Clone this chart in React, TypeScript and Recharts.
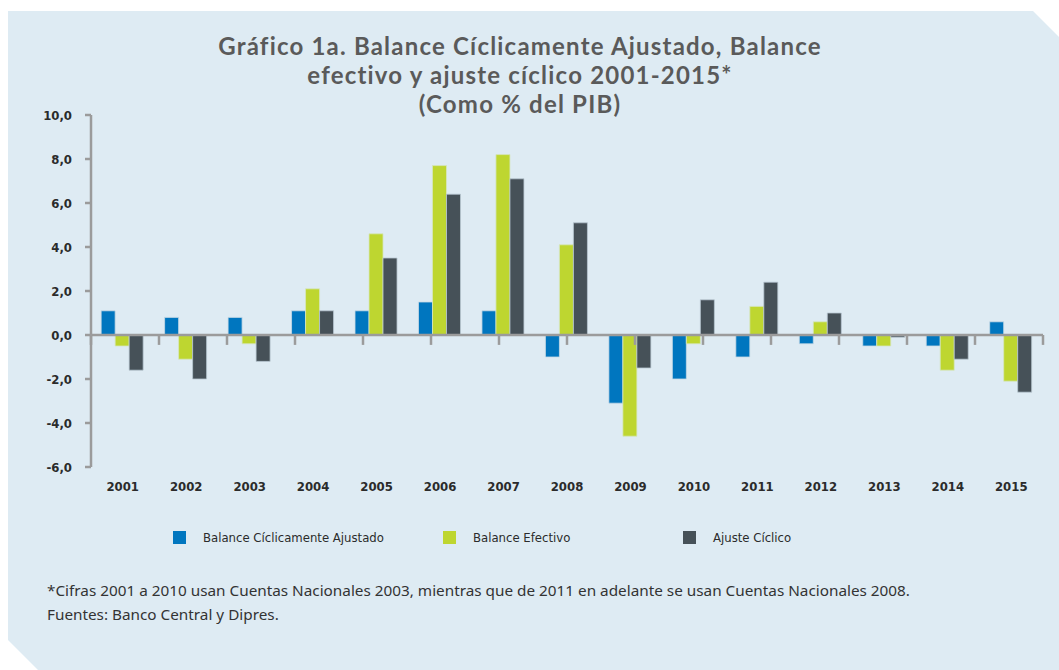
import React from "react";
import { BarChart, Bar, XAxis, YAxis, ReferenceLine } from "recharts";

const years = ["2001","2002","2003","2004","2005","2006","2007","2008","2009","2010","2011","2012","2013","2014","2015"];
const balanceCiclicamenteAjustado = [1.1, 0.8, 0.8, 1.1, 1.1, 1.5, 1.1, -1.0, -3.1, -2.0, -1.0, -0.4, -0.5, -0.5, 0.6];
const balanceEfectivo = [-0.5, -1.1, -0.4, 2.1, 4.6, 7.7, 8.2, 4.1, -4.6, -0.4, 1.3, 0.6, -0.5, -1.6, -2.1];
const ajusteCiclico = [-1.6, -2.0, -1.2, 1.1, 3.5, 6.4, 7.1, 5.1, -1.5, 1.6, 2.4, 1.0, -0.1, -1.1, -2.6];
const yTicks = [-6, -4, -2, 0, 2, 4, 6, 8, 10];
const boundaries = [0, 1, 2, 3, 4, 5, 6, 7, 8, 9, 10, 11, 12, 13, 14, 15];

const seriesNames = ["Balance Cíclicamente Ajustado", "Balance Efectivo", "Ajuste Cíclico"];
const seriesColors = ["#0076bf", "#bed630", "#465158"];

const data = years.map((y, i) => ({
  year: y,
  bca: balanceCiclicamenteAjustado[i],
  be: balanceEfectivo[i],
  ac: ajusteCiclico[i],
}));

const AXIS = "#9b9b9b";
const COND = "'DejaVu Sans Condensed', 'Liberation Sans Narrow', 'Noto Sans', sans-serif";
const SANS = "'Noto Sans', 'Open Sans', sans-serif";
const TITLE = "Lato, 'Noto Sans', sans-serif";

const legendX = [173, 443, 683];

const tickStyle = { fontFamily: COND, fontWeight: 700, fontSize: 13, fill: "#2b2b2b" } as any;

export default function App() {
  return (
    <div style={{ position: "absolute", left: 0, top: 0, width: 1059, height: 670, background: "#ffffff", overflow: "hidden" }}>
      <svg width={1059} height={670} style={{ position: "absolute", left: 0, top: 0 }}>
        <polygon points="8,11 1033,11 1059,37 1059,670 38,670 8,640" fill="#deebf3" />
      </svg>
      <div style={{ position: "absolute", left: 0, top: 31, width: 1040, textAlign: "center", fontFamily: TITLE, fontWeight: 700, fontSize: 24, letterSpacing: 1.2, lineHeight: "29px", color: "#5a5a5a" }}>
        Gráfico 1a. Balance Cíclicamente Ajustado, Balance<br />
        efectivo y ajuste cíclico 2001-2015*<br />
        (Como % del PIB)
      </div>
      <div style={{ position: "absolute", left: 0, top: 0 }}>
        <BarChart
          width={1059}
          height={670}
          data={data}
          margin={{ top: 115, right: 16, bottom: 173, left: 31 }}
          barCategoryGap="16%"
          barGap={0}
        >
          <XAxis
            dataKey="year"
            axisLine={false}
            tickLine={false}
            tickSize={0}
            tickMargin={15}
            height={30}
            interval={0}
            tick={tickStyle}
          />
          <XAxis xAxisId="b" type="number" domain={[0, 15]} hide />
          <YAxis
            domain={[-6, 10]}
            ticks={yTicks}
            interval={0}
            width={60}
            tickSize={6}
            tickMargin={13}
            axisLine={{ stroke: AXIS, strokeWidth: 2.5 }}
            tickLine={{ stroke: AXIS, strokeWidth: 2.5 }}
            tickFormatter={(v: number) => v.toFixed(1).replace(".", ",")}
            tick={tickStyle}
          />
          <Bar dataKey="bca" name={seriesNames[0]} fill={seriesColors[0]} stroke="#c9dbe6" strokeWidth={0.8} isAnimationActive={false} />
          <Bar dataKey="be" name={seriesNames[1]} fill={seriesColors[1]} stroke="#d6e6c0" strokeWidth={0.8} isAnimationActive={false} />
          <Bar dataKey="ac" name={seriesNames[2]} fill={seriesColors[2]} stroke="#b9c8d2" strokeWidth={0.8} isAnimationActive={false} />
          <ReferenceLine y={0} stroke={AXIS} strokeWidth={2.5} />
          {boundaries.map((b) => (
            <ReferenceLine
              key={b}
              xAxisId="b"
              segment={[{ x: b, y: 0 }, { x: b, y: -0.45 }]}
              stroke={AXIS}
              strokeWidth={2.5}
            />
          ))}
        </BarChart>
      </div>
      {seriesNames.map((n, i) => (
        <div key={n} style={{ position: "absolute", left: legendX[i], top: 531, display: "flex", alignItems: "center", height: 13 }}>
          <div style={{ width: 13, height: 13, background: seriesColors[i] }} />
          <span style={{ marginLeft: 17, fontFamily: COND, fontSize: 13, color: "#2b2b2b", whiteSpace: "nowrap" }}>{n}</span>
        </div>
      ))}
      <div style={{ position: "absolute", left: 47, top: 578, fontFamily: SANS, fontSize: 15.3, lineHeight: "24px", color: "#333", whiteSpace: "nowrap" }}>
        *Cifras 2001 a 2010 usan Cuentas Nacionales 2003, mientras que de 2011 en adelante se usan Cuentas Nacionales 2008.<br />
        Fuentes: Banco Central y Dipres.
      </div>
    </div>
  );
}
